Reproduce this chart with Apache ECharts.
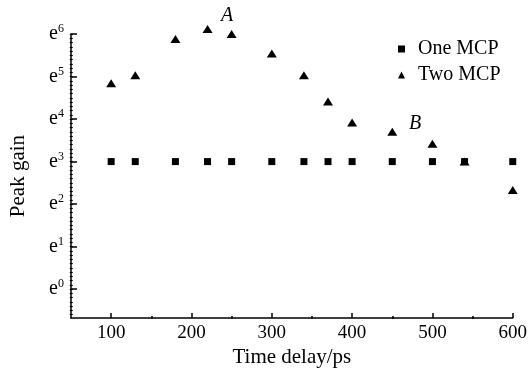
<!DOCTYPE html>
<html>
<head>
<meta charset="utf-8">
<script src="https://cdn.jsdelivr.net/npm/echarts@6/dist/echarts.min.js"></script>
<style>
  html, body { margin: 0; padding: 0; background: #fff; }
  #chart { width: 530px; height: 373px; }
</style>
</head>
<body>
<div id="chart"></div>
<script>
  // time delay (ps)
  const timeDelay = [100, 130, 180, 220, 250, 300, 340, 370, 400, 450, 500, 540, 600];
  // peak gain, as exponent of e
  const oneMCP = [3, 3, 3, 3, 3, 3, 3, 3, 3, 3, 3, 3, 3];
  const twoMCP = [4.84, 5.03, 5.88, 6.12, 6.0, 5.54, 5.03, 4.41, 3.92, 3.70, 3.42, 3.0, 2.33];

  const xTicks = [100, 200, 300, 400, 500, 600];
  const xMinorTicks = [150, 250, 350, 450, 550];
  const yTicks = [0, 1, 2, 3, 4, 5, 6];

  const yMin = -0.68, yMax = 6;
  const yMinorTicks = [];
  for (let v = -6; v <= 60; v++) yMinorTicks.push(v / 10);

  const serif = 'Liberation Serif';
  const gridLeft = 70, gridRight = 17, gridTop = 34, gridBottom = 54;
  const plotW = 530 - gridLeft - gridRight;
  const plotH = 373 - gridTop - gridBottom;

  const myChart = echarts.init(document.getElementById('chart'));
  const option = {
    backgroundColor: '#fff',
    animation: false,
    textStyle: { fontFamily: serif, color: '#000' },
    grid: { left: gridLeft, right: gridRight, top: gridTop, bottom: gridBottom },
    legend: {
      orient: 'vertical',
      left: 393,
      top: 34,
      itemWidth: 7,
      itemHeight: 7,
      itemGap: 6,
      textStyle: { fontFamily: serif, fontSize: 20, color: '#000', padding: [0, 0, 0, 8] },
      data: [
        { name: 'One MCP', icon: 'rect' },
        { name: 'Two MCP', icon: 'triangle' }
      ]
    },
    xAxis: [
      {
        type: 'value', min: 50, max: 600, position: 'bottom',
        name: 'Time delay/ps', nameLocation: 'middle', nameGap: 24,
        nameTextStyle: { fontFamily: serif, fontSize: 21, color: '#000' },
        axisLine: { onZero: false, lineStyle: { color: '#000', width: 1.5 } },
        axisTick: { inside: true, length: 5, customValues: xTicks, lineStyle: { color: '#000', width: 1.5 } },
        axisLabel: { customValues: xTicks, fontFamily: serif, fontSize: 19, color: '#000', margin: 5 },
        splitLine: { show: false }
      },
      {
        // minor ticks: this axis lands on top, shift it down onto the bottom line
        type: 'value', min: 50, max: 600, position: 'top', offset: -plotH,
        axisLine: { show: false, onZero: false },
        axisTick: { inside: false, length: 3, customValues: xMinorTicks, lineStyle: { color: '#000', width: 1.5 } },
        axisLabel: { show: false },
        splitLine: { show: false }
      }
    ],
    yAxis: [
      {
        type: 'value', min: yMin, max: yMax, position: 'left',
        name: 'Peak gain', nameLocation: 'middle', nameGap: 42, nameRotate: 90,
        nameTextStyle: { fontFamily: serif, fontSize: 21, color: '#000' },
        axisLine: { onZero: false, lineStyle: { color: '#000', width: 1.5 } },
        axisTick: { inside: true, length: 6, customValues: yTicks, lineStyle: { color: '#000', width: 1.5 } },
        axisLabel: {
          customValues: yTicks, margin: 7,
          formatter: function (v) { return '{e|e}{s|' + Math.round(v) + '}'; },
          rich: {
            e: { fontFamily: serif, fontSize: 20, color: '#000' },
            s: { fontFamily: serif, fontSize: 12, color: '#000', padding: [0, 0, 10, 0] }
          }
        },
        splitLine: { show: false }
      },
      {
        // minor ticks: this axis lands on the right, shift it onto the left line
        type: 'value', min: yMin, max: yMax, position: 'right', offset: -plotW,
        axisLine: { show: false, onZero: false },
        axisTick: { inside: false, length: 3, customValues: yMinorTicks, lineStyle: { color: '#000', width: 1.2 } },
        axisLabel: { show: false },
        splitLine: { show: false }
      }
    ],
    graphic: [
      { type: 'text', left: 221, top: 6, style: { text: 'A', fontFamily: serif, fontStyle: 'italic', fontSize: 20, fill: '#000' } },
      { type: 'text', left: 409, top: 114, style: { text: 'B', fontFamily: serif, fontStyle: 'italic', fontSize: 20, fill: '#000' } }
    ],
    series: [
      {
        name: 'One MCP', type: 'scatter', symbol: 'rect', symbolSize: 7, clip: false,
        itemStyle: { color: '#000', opacity: 1 },
        data: timeDelay.map((t, i) => [t, oneMCP[i]])
      },
      {
        name: 'Two MCP', type: 'scatter', symbol: 'triangle', symbolSize: [10, 8], clip: false,
        itemStyle: { color: '#000', opacity: 1 },
        data: timeDelay.map((t, i) => [t, twoMCP[i]])
      }
    ]
  };
  myChart.setOption(option);
</script>
</body>
</html>
